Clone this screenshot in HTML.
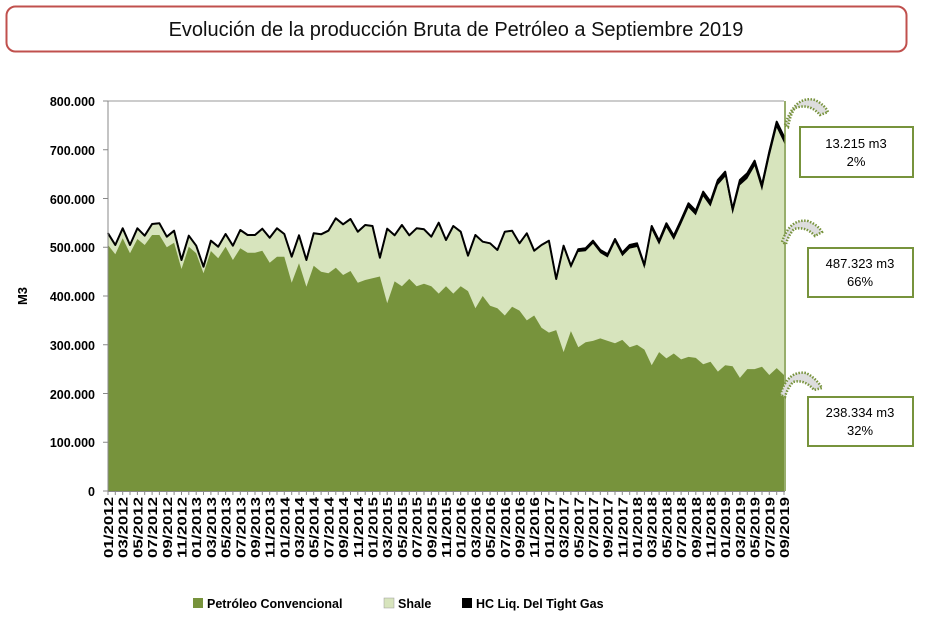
<!DOCTYPE html>
<html><head><meta charset="utf-8"><style>
body{margin:0;background:#fff;width:928px;height:627px;overflow:hidden;font-family:"Liberation Sans",sans-serif}
</style></head><body>
<svg id="s" width="928" height="627" xmlns="http://www.w3.org/2000/svg" font-family="Liberation Sans, sans-serif">
<rect x="6.5" y="6.5" width="900" height="45" rx="9" fill="#fff" stroke="#C0504D" stroke-width="2"/>
<text x="456" y="36" font-size="20" text-anchor="middle" fill="#111">Evolución de la producción Bruta de Petróleo a Septiembre 2019</text>
<g id="plot"></g>
<text transform="translate(27,296) rotate(-90)" font-size="13" font-weight="bold" text-anchor="middle">M3</text>
<g font-size="12.5" font-weight="bold" text-anchor="end" fill="#000">
<text x="95" y="106">800.000</text><text x="95" y="155">700.000</text><text x="95" y="204">600.000</text><text x="95" y="252">500.000</text><text x="95" y="301">400.000</text><text x="95" y="350">300.000</text><text x="95" y="399">200.000</text><text x="95" y="447">100.000</text><text x="95" y="496">0</text>
</g>
<g id="xl" font-size="13" font-weight="bold" text-anchor="end"></g>
<g stroke="#77933C" stroke-width="2" fill="#fff">
<rect x="800" y="127" width="113" height="50"/>
<rect x="808" y="248" width="105" height="49"/>
<rect x="808" y="397" width="105" height="49"/>
</g>
<g font-size="13" text-anchor="middle" fill="#000">
<text x="856" y="148">13.215 m3</text><text x="856" y="166">2%</text>
<text x="860" y="268">487.323 m3</text><text x="860" y="286">66%</text>
<text x="860" y="417">238.334 m3</text><text x="860" y="435">32%</text>
</g>
<g fill="#ddd" stroke="#77933C" stroke-width="2.5" stroke-dasharray="1.5 1.5">
<path d="M785 125 Q795 95 815 100 Q825 105 828 112 L820 115 Q810 103 795 108 Q790 115 788 127Z"/>
<path d="M782 242 Q790 218 808 221 Q818 225 822 232 L815 236 Q806 226 794 229 Q788 236 786 244Z"/>
<path d="M780 395 Q788 370 806 373 Q816 378 822 388 L814 390 Q805 379 793 382 Q787 389 785 397Z"/>
</g>
<g font-size="12.5" font-weight="bold">
<rect x="193" y="598" width="10" height="10" fill="#77933C"/><text x="207" y="608">Petróleo Convencional</text>
<rect x="384" y="598" width="10" height="10" fill="#D7E4BD" stroke="#999" stroke-width="0.5"/><text x="398" y="608">Shale</text>
<rect x="462" y="598" width="10" height="10" fill="#000"/><text x="476" y="608">HC Liq. Del Tight Gas</text>
</g>
</svg>
<script>
(function(){
var t1=[233.3,245,228.3,245,228.3,235.7,224,223.3,236.7,230.7,260,235.7,245.7,266.7,240.7,246.7,234,245.7,230,235,235,228.7,237.7,228.3,234,256.7,235.3,260,233.3,234.3,230.7,218.3,224.3,219,231.7,225,226,257.7,228.7,235.3,225,235.3,228.3,229.3,236.7];
var t2=[222.7,240,226,231.7,255.7,235,241.7,243.3,250,231.7,230.7,243.3,233.3,250.7,245,240.7,279,245.7,265.7,249.3,248.3,240.7,250,254.3,239,252.7,245,243.3,265,226,240.7,223.3,235.7,220,203.3,210.7,191.7,201.7,180,171.7,209,180,173.3,160.7,185,151.7,121.7,136.7];
var tp=t1.concat(t2);
var c1=[245,254.3,238.3,253.3,239,245,235,235,247.3,242.7,269,246.7,253.3,273.3,251,258.3,246.7,260,248.3,252.7,252.7,250.7,262.7,256.7,256.7,282.7,263.3,286.7,265.7,271.7,273.3,267.7,275,271,282.7,280,278.3];
var cv=[440,385,430,420,435,420,425,420,405,420,405,420,410,375,400,380,375,360,378,370,350,360,335,325,330,285,328,295,305,308,313,308,303,310,295,300,290,258,285,272,282,270,275,273,260,265,245,258,256,232,250,250,255,238,252,238];
var conv=c1.concat(cv.map(function(v){return 491-v*0.4875;}));
var N=93,x0=108,x1=784,dx=(x1-x0)/(N-1);
function X(i){return (x0+i*dx).toFixed(1);}
var th=tp.map(function(t,i){return i<62?0.5:Math.min(6,2.5+(i-62)*0.12);});
var sh=tp.map(function(t,i){return t+th[i];});
function line(a){return a.map(function(y,i){return X(i)+","+y.toFixed(1);}).join(" ");}
function area(a){return "M"+X(0)+",491 L"+line(a)+" L"+X(N-1)+",491Z";}
var s='';
s+='<line x1="108" y1="101" x2="784" y2="101" stroke="#999"/>';
s+='<path d="M'+line(tp)+' L'+sh.slice().reverse().map(function(y,i){return X(N-1-i)+","+y.toFixed(1);}).join(" ")+'Z" fill="#000" stroke="#000" stroke-width="1.5" stroke-linejoin="round"/>';
s+='<path d="'+area(sh)+'" fill="#D7E4BD"/>';
s+='<path d="'+area(conv)+'" fill="#77933C"/>';
s+='<polyline points="'+line(tp)+'" fill="none" stroke="#000" stroke-width="2" stroke-linejoin="round"/>';
s+='<line x1="785" y1="101" x2="785" y2="491" stroke="#77933C" stroke-width="1.5"/>';
s+='<line x1="108" y1="101" x2="108" y2="491" stroke="#888"/>';
s+='<line x1="108" y1="491.5" x2="785" y2="491.5" stroke="#888"/>';
for(var k=0;k<=8;k++){var y=491-k*48.75;s+='<line x1="103" y1="'+y+'" x2="108" y2="'+y+'" stroke="#888"/>';}
for(var i=0;i<N;i++){s+='<line x1="'+X(i)+'" y1="491" x2="'+X(i)+'" y2="495" stroke="#888"/>';}
document.getElementById('plot').innerHTML=s;
var xl='';
for(var i=0;i<N;i+=2){var m=(i%12)+1,yr=2012+Math.floor(i/12);var lab=(m<10?'0':'')+m+'/'+yr;
xl+='<text transform="translate('+(x0+i*dx+5).toFixed(1)+',497) rotate(-90)" textLength="61" lengthAdjust="spacingAndGlyphs">'+lab+'</text>';}
document.getElementById('xl').innerHTML=xl;
})();
</script>
</body></html>
